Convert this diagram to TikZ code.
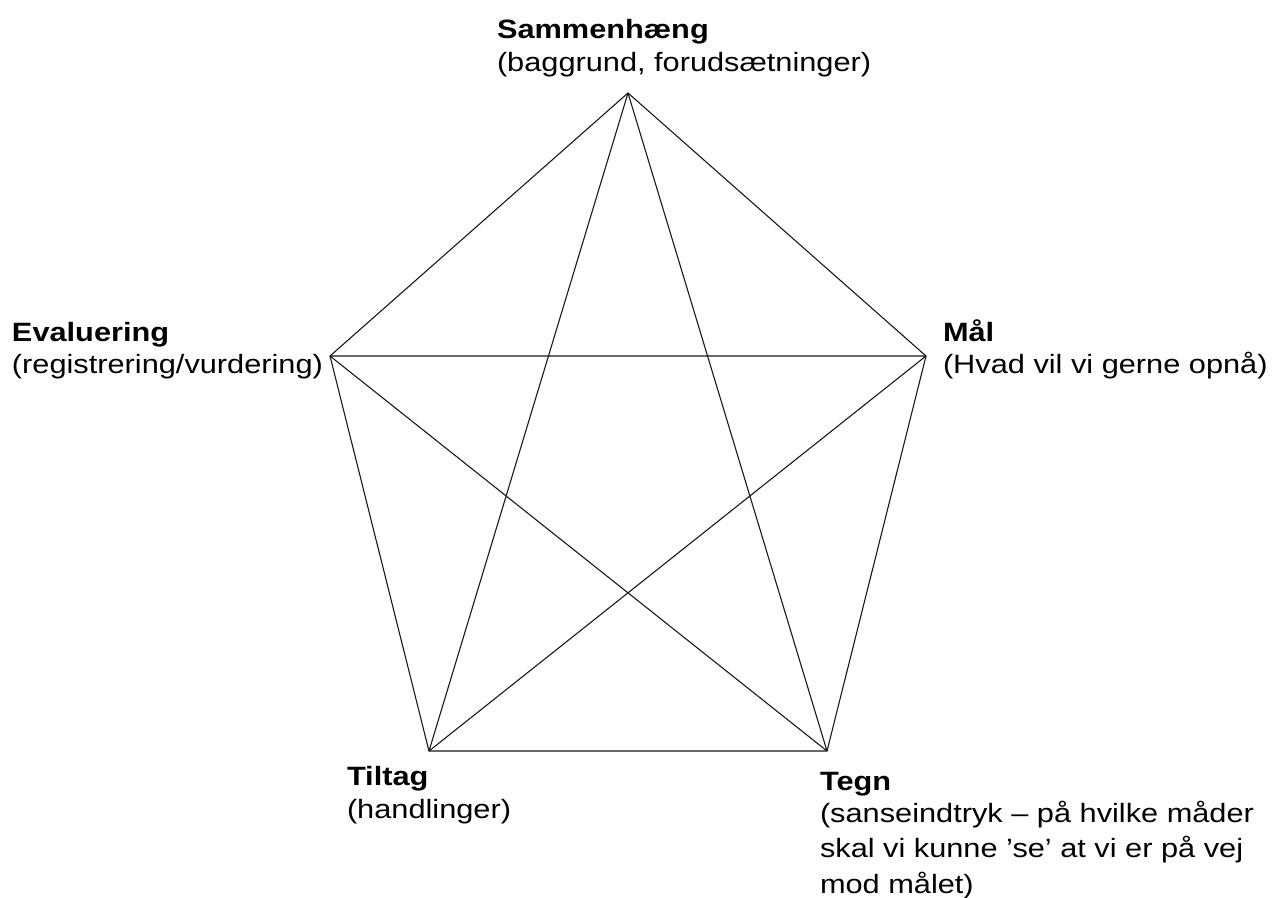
\documentclass[tikz,border=0pt]{standalone}
\usepackage{fontspec}
\setmainfont[FakeStretch=1.16]{Liberation Sans}
\begin{document}
\begin{tikzpicture}[x=1pt,y=-1pt,
  edge/.style={draw=black!90,line width=1.1pt},
  lbl/.style={anchor=base west,align=left,inner sep=0pt,outer sep=0pt,
    font=\fontsize{26.5}{35.5}\selectfont}]
\useasboundingbox (0,0) rectangle (1282,897);
\coordinate (S) at (628,93);
\coordinate (E) at (330,356);
\coordinate (M) at (926,356);
\coordinate (T) at (429,751);
\coordinate (G) at (827,751);
\draw[edge] (S) -- (M) -- (G) -- (T) -- (E) -- cycle;
\draw[edge] (S) -- (T) (S) -- (G) (E) -- (M) (E) -- (G) (M) -- (T);
\node[lbl] (ls) at (497,71) {\textbf{Sammenhæng}\\[-3pt](baggrund, forudsætninger)};
\node[lbl] (le) at (12,373) {\textbf{Evaluering}\\[-4pt](registrering/vurdering)};
\node[lbl] (lm) at (943,373) {\textbf{Mål}\\[-4pt](Hvad vil vi gerne opnå)};
\node[lbl] (lt) at (347,818) {\textbf{Tiltag}\\[-3pt](handlinger)};
\node[lbl] (lg) at (820,893) {\textbf{Tegn}\\[-3.5pt](sanseindtryk – på hvilke måder\\skal vi kunne ’se’ at vi er på vej\\mod målet)};
\end{tikzpicture}
\end{document}
